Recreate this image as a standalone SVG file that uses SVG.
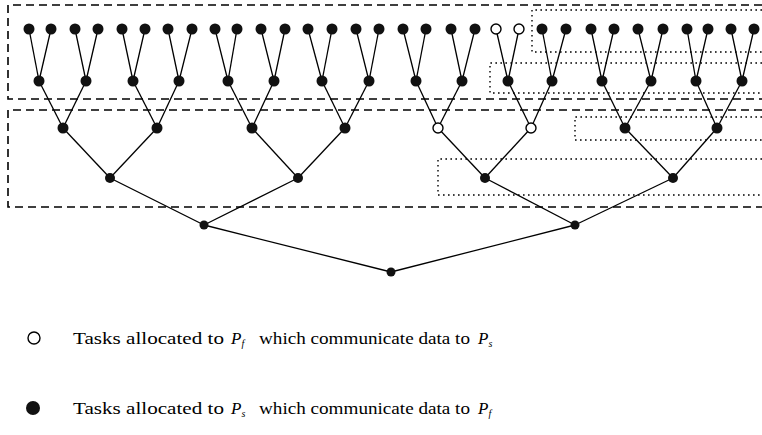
<svg xmlns="http://www.w3.org/2000/svg" width="762" height="435" viewBox="0 0 762 435">
<style>
.bg{fill:#fff}
.e line{stroke:#000;stroke-width:1.3}
.f{fill:#111}
.o{fill:#fff;stroke:#000;stroke-width:1.4}
.dash{fill:none;stroke:#000;stroke-width:1.6;stroke-dasharray:8 5}
.dot{fill:none;stroke:#000;stroke-width:1.4;stroke-dasharray:1.6 3.4}
.t{font-family:"Liberation Serif","DejaVu Serif",serif;font-size:17px;fill:#000}
.i{font-style:italic}
.s{font-size:10px;font-style:italic}
</style>
<rect class="bg" x="0" y="0" width="762" height="435"/>
<g id="partitions">
<path class="dash" d="M762 5H8V99H762"/>
<path class="dash" d="M762 110H8V207H762"/>
<path class="dot" d="M762 10H532V52H762"/>
<path class="dot" d="M762 63H490V93H762"/>
<path class="dot" d="M762 117H575V140H762"/>
<path class="dot" d="M762 159H438V195H762"/>
</g>
<g id="connectors" class="e">
<line x1="29" y1="29" x2="39" y2="81"/><line x1="51" y1="29" x2="39" y2="81"/>
<line x1="75" y1="29" x2="86" y2="81"/><line x1="98" y1="29" x2="86" y2="81"/>
<line x1="122" y1="29" x2="133" y2="81"/><line x1="145" y1="29" x2="133" y2="81"/>
<line x1="168" y1="29" x2="179" y2="81"/><line x1="192" y1="29" x2="179" y2="81"/>
<line x1="215" y1="29" x2="228" y2="81"/><line x1="237" y1="29" x2="228" y2="81"/>
<line x1="261" y1="29" x2="274" y2="81"/><line x1="285" y1="29" x2="274" y2="81"/>
<line x1="308" y1="29" x2="322" y2="81"/><line x1="332" y1="29" x2="322" y2="81"/>
<line x1="356" y1="29" x2="369" y2="81"/><line x1="379" y1="29" x2="369" y2="81"/>
<line x1="403" y1="29" x2="416" y2="81"/><line x1="426" y1="29" x2="416" y2="81"/>
<line x1="451" y1="29" x2="462" y2="81"/><line x1="475" y1="29" x2="462" y2="81"/>
<line x1="496" y1="29" x2="508" y2="81"/><line x1="519" y1="29" x2="508" y2="81"/>
<line x1="542" y1="29" x2="552" y2="81"/><line x1="566" y1="29" x2="552" y2="81"/>
<line x1="591" y1="29" x2="602" y2="81"/><line x1="614" y1="29" x2="602" y2="81"/>
<line x1="638" y1="29" x2="651" y2="81"/><line x1="663" y1="29" x2="651" y2="81"/>
<line x1="687" y1="29" x2="696" y2="81"/><line x1="708" y1="29" x2="696" y2="81"/>
<line x1="731" y1="29" x2="742" y2="81"/><line x1="754" y1="29" x2="742" y2="81"/>
<line x1="39" y1="81" x2="63" y2="128"/><line x1="86" y1="81" x2="63" y2="128"/>
<line x1="133" y1="81" x2="157" y2="128"/><line x1="179" y1="81" x2="157" y2="128"/>
<line x1="228" y1="81" x2="252" y2="128"/><line x1="274" y1="81" x2="252" y2="128"/>
<line x1="322" y1="81" x2="345" y2="128"/><line x1="369" y1="81" x2="345" y2="128"/>
<line x1="416" y1="81" x2="438" y2="128"/><line x1="462" y1="81" x2="438" y2="128"/>
<line x1="508" y1="81" x2="531" y2="128"/><line x1="552" y1="81" x2="531" y2="128"/>
<line x1="602" y1="81" x2="625" y2="128"/><line x1="651" y1="81" x2="625" y2="128"/>
<line x1="696" y1="81" x2="717" y2="128"/><line x1="742" y1="81" x2="717" y2="128"/>
<line x1="63" y1="128" x2="110" y2="178"/><line x1="157" y1="128" x2="110" y2="178"/>
<line x1="252" y1="128" x2="298" y2="178"/><line x1="345" y1="128" x2="298" y2="178"/>
<line x1="438" y1="128" x2="485" y2="178"/><line x1="531" y1="128" x2="485" y2="178"/>
<line x1="625" y1="128" x2="673" y2="178"/><line x1="717" y1="128" x2="673" y2="178"/>
<line x1="110" y1="178" x2="204" y2="225"/><line x1="298" y1="178" x2="204" y2="225"/>
<line x1="485" y1="178" x2="575" y2="225"/><line x1="673" y1="178" x2="575" y2="225"/>
<line x1="204" y1="225" x2="391" y2="272"/><line x1="575" y1="225" x2="391" y2="272"/>
</g>
<g id="leaf0"><circle class="f" cx="29" cy="29" r="5.5"/></g>
<g id="leaf1"><circle class="f" cx="51" cy="29" r="5.5"/></g>
<g id="leaf2"><circle class="f" cx="75" cy="29" r="5.5"/></g>
<g id="leaf3"><circle class="f" cx="98" cy="29" r="5.5"/></g>
<g id="leaf4"><circle class="f" cx="122" cy="29" r="5.5"/></g>
<g id="leaf5"><circle class="f" cx="145" cy="29" r="5.5"/></g>
<g id="leaf6"><circle class="f" cx="168" cy="29" r="5.5"/></g>
<g id="leaf7"><circle class="f" cx="192" cy="29" r="5.5"/></g>
<g id="leaf8"><circle class="f" cx="215" cy="29" r="5.5"/></g>
<g id="leaf9"><circle class="f" cx="237" cy="29" r="5.5"/></g>
<g id="leaf10"><circle class="f" cx="261" cy="29" r="5.5"/></g>
<g id="leaf11"><circle class="f" cx="285" cy="29" r="5.5"/></g>
<g id="leaf12"><circle class="f" cx="308" cy="29" r="5.5"/></g>
<g id="leaf13"><circle class="f" cx="332" cy="29" r="5.5"/></g>
<g id="leaf14"><circle class="f" cx="356" cy="29" r="5.5"/></g>
<g id="leaf15"><circle class="f" cx="379" cy="29" r="5.5"/></g>
<g id="leaf16"><circle class="f" cx="403" cy="29" r="5.5"/></g>
<g id="leaf17"><circle class="f" cx="426" cy="29" r="5.5"/></g>
<g id="leaf18"><circle class="f" cx="451" cy="29" r="5.5"/></g>
<g id="leaf19"><circle class="f" cx="475" cy="29" r="5.5"/></g>
<g id="leaf20"><circle class="o" cx="496" cy="29" r="5"/></g>
<g id="leaf21"><circle class="o" cx="519" cy="29" r="5"/></g>
<g id="leaf22"><circle class="f" cx="542" cy="29" r="5.5"/></g>
<g id="leaf23"><circle class="f" cx="566" cy="29" r="5.5"/></g>
<g id="leaf24"><circle class="f" cx="591" cy="29" r="5.5"/></g>
<g id="leaf25"><circle class="f" cx="614" cy="29" r="5.5"/></g>
<g id="leaf26"><circle class="f" cx="638" cy="29" r="5.5"/></g>
<g id="leaf27"><circle class="f" cx="663" cy="29" r="5.5"/></g>
<g id="leaf28"><circle class="f" cx="687" cy="29" r="5.5"/></g>
<g id="leaf29"><circle class="f" cx="708" cy="29" r="5.5"/></g>
<g id="leaf30"><circle class="f" cx="731" cy="29" r="5.5"/></g>
<g id="leaf31"><circle class="f" cx="754" cy="29" r="5.5"/></g>
<g id="l1n0"><circle class="f" cx="39" cy="81" r="5.5"/></g>
<g id="l1n1"><circle class="f" cx="86" cy="81" r="5.5"/></g>
<g id="l1n2"><circle class="f" cx="133" cy="81" r="5.5"/></g>
<g id="l1n3"><circle class="f" cx="179" cy="81" r="5.5"/></g>
<g id="l1n4"><circle class="f" cx="228" cy="81" r="5.5"/></g>
<g id="l1n5"><circle class="f" cx="274" cy="81" r="5.5"/></g>
<g id="l1n6"><circle class="f" cx="322" cy="81" r="5.5"/></g>
<g id="l1n7"><circle class="f" cx="369" cy="81" r="5.5"/></g>
<g id="l1n8"><circle class="f" cx="416" cy="81" r="5.5"/></g>
<g id="l1n9"><circle class="f" cx="462" cy="81" r="5.5"/></g>
<g id="l1n10"><circle class="f" cx="508" cy="81" r="5.5"/></g>
<g id="l1n11"><circle class="f" cx="552" cy="81" r="5.5"/></g>
<g id="l1n12"><circle class="f" cx="602" cy="81" r="5.5"/></g>
<g id="l1n13"><circle class="f" cx="651" cy="81" r="5.5"/></g>
<g id="l1n14"><circle class="f" cx="696" cy="81" r="5.5"/></g>
<g id="l1n15"><circle class="f" cx="742" cy="81" r="5.5"/></g>
<g id="l2n0"><circle class="f" cx="63" cy="128" r="5.5"/></g>
<g id="l2n1"><circle class="f" cx="157" cy="128" r="5.5"/></g>
<g id="l2n2"><circle class="f" cx="252" cy="128" r="5.5"/></g>
<g id="l2n3"><circle class="f" cx="345" cy="128" r="5.5"/></g>
<g id="l2n4"><circle class="o" cx="438" cy="128" r="5"/></g>
<g id="l2n5"><circle class="o" cx="531" cy="128" r="5"/></g>
<g id="l2n6"><circle class="f" cx="625" cy="128" r="5.5"/></g>
<g id="l2n7"><circle class="f" cx="717" cy="128" r="5.5"/></g>
<g id="l3n0"><circle class="f" cx="110" cy="178" r="5"/></g>
<g id="l3n1"><circle class="f" cx="298" cy="178" r="5"/></g>
<g id="l3n2"><circle class="f" cx="485" cy="178" r="5"/></g>
<g id="l3n3"><circle class="f" cx="673" cy="178" r="5"/></g>
<g id="l4n0"><circle class="f" cx="204" cy="225" r="4.5"/></g>
<g id="l4n1"><circle class="f" cx="575" cy="225" r="4.5"/></g>
<g id="root"><circle class="f" cx="391" cy="272" r="4.5"/></g>
<g id="legend-open">
<circle class="o" cx="34" cy="338" r="6"/>
<text class="t" x="73" y="344" textLength="151" lengthAdjust="spacingAndGlyphs">Tasks allocated to</text>
<text class="t" x="231" y="344"><tspan class="i">P</tspan><tspan class="s" dy="3">f</tspan></text>
<text class="t" x="259" y="344" textLength="211" lengthAdjust="spacingAndGlyphs">which communicate data to</text>
<text class="t" x="478" y="344"><tspan class="i">P</tspan><tspan class="s" dy="3">s</tspan></text>
</g>
<g id="legend-filled">
<circle class="f" cx="33" cy="408" r="7"/>
<text class="t" x="73" y="414" textLength="151" lengthAdjust="spacingAndGlyphs">Tasks allocated to</text>
<text class="t" x="231" y="414"><tspan class="i">P</tspan><tspan class="s" dy="3">s</tspan></text>
<text class="t" x="259" y="414" textLength="211" lengthAdjust="spacingAndGlyphs">which communicate data to</text>
<text class="t" x="478" y="414"><tspan class="i">P</tspan><tspan class="s" dy="3">f</tspan></text>
</g>
</svg>
